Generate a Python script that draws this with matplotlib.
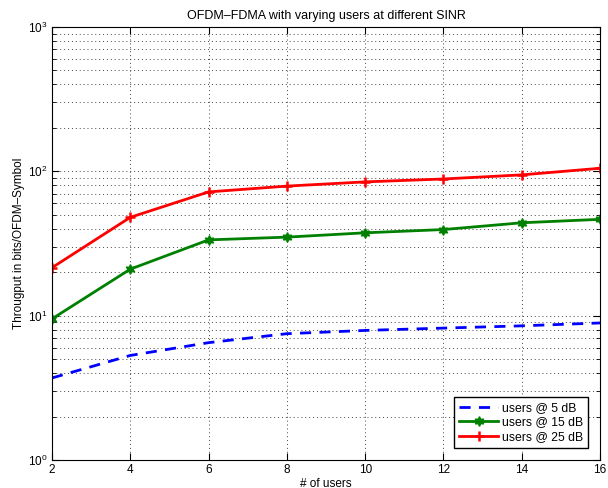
import numpy as np
import matplotlib.pyplot as plt
from matplotlib.ticker import LogLocator, NullFormatter

plt.rcParams['font.family'] = ['Liberation Sans', 'DejaVu Sans']

users = [2, 4, 6, 8, 10, 12, 14, 16]
snr5 = [3.7, 5.3, 6.5, 7.5, 7.9, 8.2, 8.5, 8.9]
snr15 = [9.5, 21.0, 33.5, 35.0, 37.5, 39.5, 44.0, 46.5]
snr25 = [21.5, 48.0, 72.0, 79.0, 84.5, 88.5, 94.5, 105.0]

fig = plt.figure(figsize=(6.08, 4.88), dpi=100)
ax = fig.add_axes([0.0855, 0.0574, 0.9015, 0.8873])

ax.semilogy(users, snr5, color='blue', linestyle='--', linewidth=2, dashes=(4, 3),
            label='users @ 5 dB')
ax.semilogy(users, snr15, color='green', linewidth=2, marker=(6, 1, 0), markersize=7,
            label='users @ 15 dB')
ax.semilogy(users, snr25, color='red', linewidth=2, marker='+', markersize=7,
            markeredgewidth=1.8, label='users @ 25 dB')

ax.set_xlim(2, 16)
ax.set_ylim(1, 1000)
ax.set_xticks(users)
ax.yaxis.set_major_locator(LogLocator(base=10, numticks=10))
ax.yaxis.set_minor_locator(LogLocator(base=10, subs=np.arange(2, 10), numticks=10))
ax.yaxis.set_minor_formatter(NullFormatter())

# MATLAB style dotted grid, major + minor
for which, axis in [('major', 'both'), ('minor', 'y')]:
    ax.grid(True, which=which, axis=axis, color='#444444', linewidth=0.7,
            linestyle=(0, (1, 3)))
ax.tick_params(which='both', direction='in', top=True, right=True, labelsize=8.5, pad=3)
ax.tick_params(which='major', length=5)
ax.tick_params(which='minor', length=3)

ax.set_title('OFDM\u2013FDMA with varying users at different SINR', fontsize=9, pad=6)
ax.set_xlabel('# of users', fontsize=8.5, labelpad=1)
ax.set_ylabel('Througput in bits/OFDM\u2013Symbol', fontsize=8.5, labelpad=2)

leg = ax.legend(loc='lower right', fontsize=8.8, fancybox=False, edgecolor='black',
                framealpha=1, handlelength=3.2, handletextpad=0.3, labelspacing=0.2,
                borderaxespad=1.0, borderpad=0.4)
leg.get_frame().set_linewidth(1)

plt.savefig('out.png', dpi=100)
